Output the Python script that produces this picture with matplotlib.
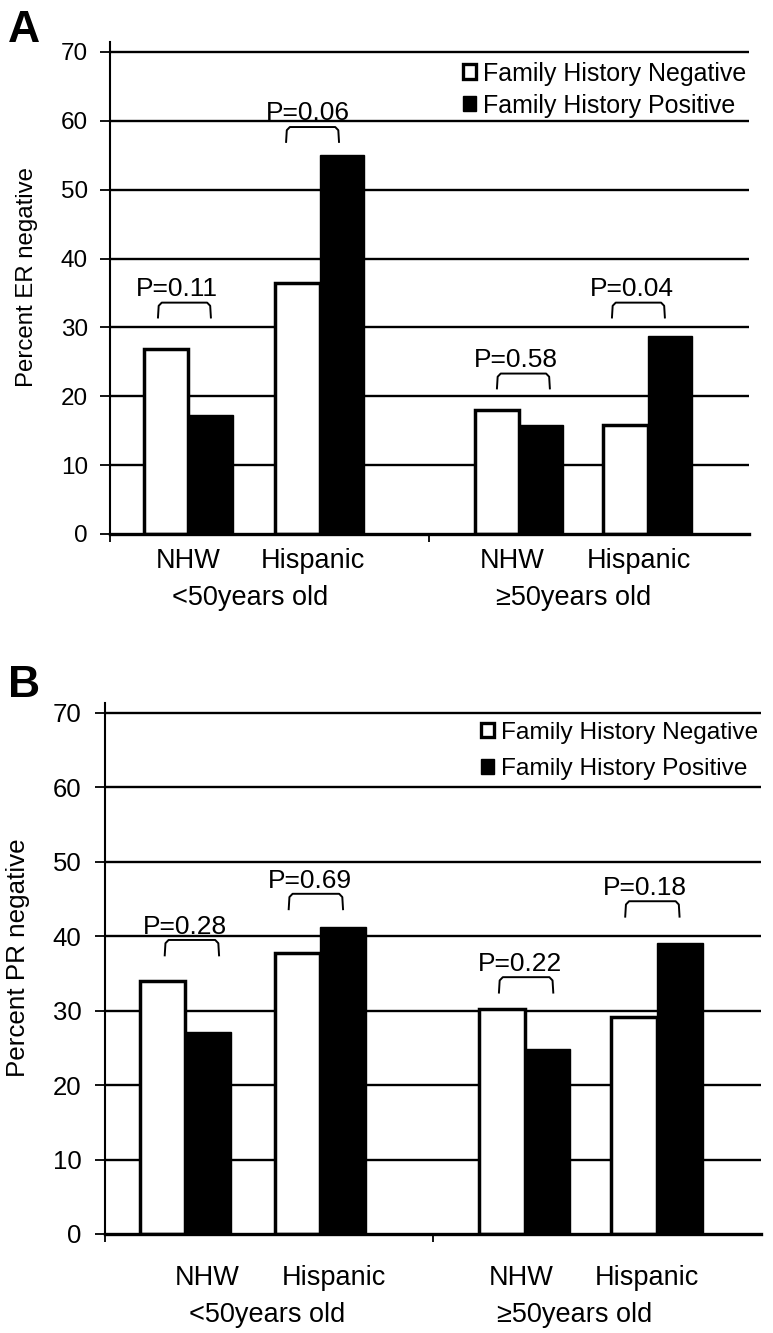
import matplotlib.pyplot as plt
from matplotlib.patches import Patch

plt.rcParams['font.family'] = ['Liberation Sans', 'DejaVu Sans']

# data
age_groups = ['<50years old', '\u226550years old']
ethnicity = ['NHW', 'Hispanic', 'NHW', 'Hispanic']
series_names = ['Family History Negative', 'Family History Positive']

er_fh_neg = [26.8, 36.4, 18.0, 15.8]
er_fh_pos = [17.3, 55.1, 15.9, 28.7]
er_pvals = ['P=0.11', 'P=0.06', 'P=0.58', 'P=0.04']

pr_fh_neg = [34.0, 37.7, 30.2, 29.1]
pr_fh_pos = [27.1, 41.2, 24.8, 39.1]
pr_pvals = ['P=0.28', 'P=0.69', 'P=0.22', 'P=0.18']

yticks = [0, 10, 20, 30, 40, 50, 60, 70]

# layout (axis units, x range 0..2)
pair_x = [0.245, 0.656, 1.28, 1.683]
bar_w = 0.139


def bracket(ax, xc, y0, h, half=0.083, lw=1.4):
    r = 0.012
    xs = [xc - half, xc - half + r * 0.2, xc - half + r, xc + half - r, xc + half - r * 0.2, xc + half]
    ys = [y0, y0 + h * 0.8, y0 + h, y0 + h, y0 + h * 0.8, y0]
    ax.plot(xs, ys, color='black', lw=lw, solid_capstyle='butt', zorder=4)


def draw_panel(ax, neg, pos, pvals, ylabel, ytop, br_bottom, br_x, txt_x, txt_off,
               lab_x, grp_x, lab_dy, grp_dy, fs):
    left = [x - bar_w / 2 for x in pair_x]
    right = [x + bar_w / 2 for x in pair_x]
    ax.bar(left, neg, bar_w, color='white', edgecolor='black', lw=2.5, zorder=3,
           label=series_names[0])
    ax.bar(right, pos, bar_w, color='black', edgecolor='black', lw=1.0, zorder=3,
           label=series_names[1])

    ax.set_xlim(0, 2)
    ax.set_ylim(0, ytop)
    ax.set_yticks(yticks)
    ax.set_yticklabels([str(t) for t in yticks], fontsize=fs['tick'])
    ax.set_xticks([0, 1])
    ax.set_xticklabels([])
    ax.tick_params(axis='y', direction='out', length=7, width=1.3, pad=fs['pad'])
    ax.tick_params(axis='x', direction='out', length=6, width=1.3)
    for t in yticks[1:]:
        ax.axhline(t, color='black', lw=1.7, zorder=1)
    ax.spines['top'].set_visible(False)
    ax.spines['right'].set_visible(False)
    ax.spines['left'].set_linewidth(1.5)
    ax.spines['bottom'].set_linewidth(2.4)
    ax.spines['bottom'].set_zorder(5)

    for b, bx, tx, p in zip(br_bottom, br_x, txt_x, pvals):
        bracket(ax, bx, b, fs['brh'])
        ax.text(tx, b + txt_off, p, ha='center', va='baseline', fontsize=fs['p'], zorder=5)

    for x, lab in zip(lab_x, ethnicity):
        ax.annotate(lab, xy=(x, 0), xycoords=('data', 'axes fraction'),
                    xytext=(0, lab_dy), textcoords='offset pixels',
                    ha='center', va='baseline', fontsize=fs['cat'], annotation_clip=False)
    for x, lab in zip(grp_x, age_groups):
        ax.annotate(lab, xy=(x, 0), xycoords=('data', 'axes fraction'),
                    xytext=(0, grp_dy), textcoords='offset pixels',
                    ha='center', va='baseline', fontsize=fs['cat'], annotation_clip=False)

    ax.set_ylabel(ylabel, fontsize=fs['ylab'])

    handles = [Patch(facecolor='white', edgecolor='black', lw=2.4),
               Patch(facecolor='black', edgecolor='black')]
    ax.legend(handles, series_names, loc='upper right', bbox_to_anchor=fs['leg_anchor'],
              frameon=False, fontsize=fs['leg'], handlelength=0.55, handleheight=0.55,
              handletextpad=0.25, labelspacing=fs['leg_sp'], borderaxespad=0, borderpad=0)


fig = plt.figure(figsize=(7.73, 13.33), dpi=100)

ax_a = fig.add_axes([0.1423, 0.5994, 0.8266, 0.3691])
draw_panel(ax_a, er_fh_neg, er_fh_pos, er_pvals, 'Percent ER negative', 71.45,
           br_bottom=[31.3, 56.8, 21.0, 31.3],
           br_x=[0.233, 0.634, 1.294, 1.654],
           txt_x=[0.210, 0.620, 1.271, 1.634], txt_off=3.3,
           lab_x=[0.244, 0.635, 1.258, 1.656], grp_x=[0.44, 1.45],
           lab_dy=-34, grp_dy=-71,
           fs=dict(tick=17.5, pad=9, p=19, cat=19.5, ylab=17.3, leg=18, brh=2.3,
                   leg_anchor=(0.995, 0.96), leg_sp=0.32))
ax_a.yaxis.set_label_coords(-0.113, 0.522)

ax_b = fig.add_axes([0.1358, 0.07427, 0.8486, 0.3984])
draw_panel(ax_b, pr_fh_neg, pr_fh_pos, pr_pvals, 'Percent PR negative', 71.34,
           br_bottom=[37.3, 43.5, 32.3, 42.5],
           br_x=[0.265, 0.643, 1.284, 1.669],
           txt_x=[0.244, 0.625, 1.265, 1.646], txt_off=3.0,
           lab_x=[0.311, 0.698, 1.268, 1.652], grp_x=[0.494, 1.433],
           lab_dy=-51, grp_dy=-88,
           fs=dict(tick=18.5, pad=10, p=19, cat=19.5, ylab=18.7, leg=17.6, brh=2.2,
                   leg_anchor=(0.995, 0.965), leg_sp=0.6))
ax_b.yaxis.set_label_coords(-0.114, 0.52)

fig.text(8 / 773, 1 - 42 / 1333, 'A', fontsize=32, fontweight='bold', ha='left', va='baseline')
fig.text(8 / 773, 1 - 697 / 1333, 'B', fontsize=32, fontweight='bold', ha='left', va='baseline')

fig.savefig('out.png', dpi=100)
